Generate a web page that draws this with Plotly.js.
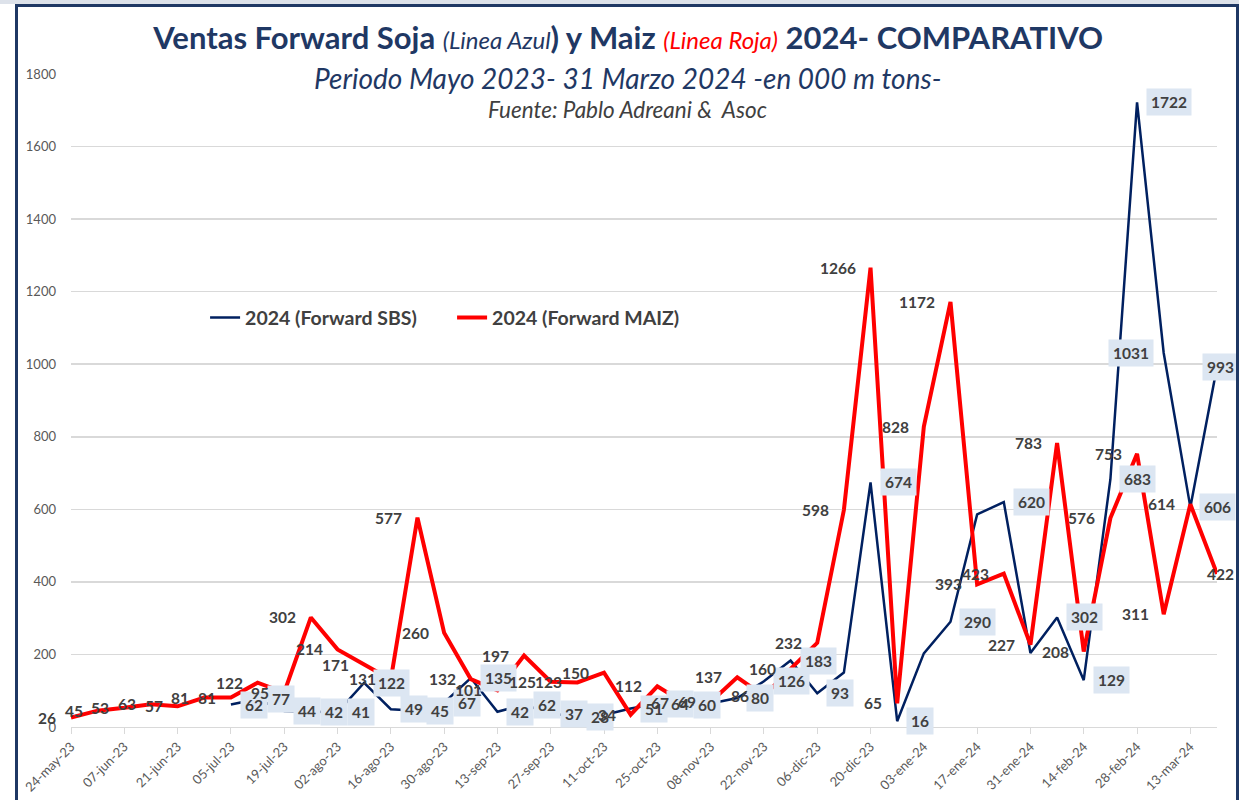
<!DOCTYPE html>
<html>
<head>
<meta charset="utf-8">
<script src="https://cdn.plot.ly/plotly-3.0.1.min.js"></script>
<style>
html,body{margin:0;padding:0;background:#ffffff;}
#chart{position:absolute;left:0;top:0;width:1239px;height:800px;}
#topstrip{position:absolute;left:0;top:0;width:1239px;height:4px;background:#dde2ea;}
#frame{position:absolute;left:15px;top:4px;width:1224px;height:820px;border:3px solid #1F3864;box-sizing:border-box;pointer-events:none;}
</style>
</head>
<body>
<div id="chart"></div>
<div id="topstrip"></div>
<div id="frame"></div>
<script>
// Weekly categories (x axis)
const weeks = [
  "24-may-23","31-may-23","07-jun-23","14-jun-23","21-jun-23","28-jun-23",
  "05-jul-23","12-jul-23","19-jul-23","26-jul-23","02-ago-23","09-ago-23",
  "16-ago-23","23-ago-23","30-ago-23","06-sep-23","13-sep-23","20-sep-23",
  "27-sep-23","04-oct-23","11-oct-23","18-oct-23","25-oct-23","01-nov-23",
  "08-nov-23","15-nov-23","22-nov-23","29-nov-23","06-dic-23","13-dic-23",
  "20-dic-23","27-dic-23","03-ene-24","10-ene-24","17-ene-24","24-ene-24",
  "31-ene-24","07-feb-24","14-feb-24","21-feb-24","28-feb-24","06-mar-24",
  "13-mar-24","20-mar-24"
];

// 2024 (Forward SBS) - soja, thousand tons
const sojaSBS = [
  null,null,null,null,null,null,
  62,77,44,42,41,122,
  49,45,67,135,42,62,
  37,28,33,51,64,60,
  65,80,126,183,93,150,
  674,16,203,290,586,620,
  204,302,129,683,1722,1031,
  606,993
];

// 2024 (Forward MAIZ) - maiz, thousand tons
const maizMAIZ = [
  26,45,53,63,57,81,
  81,122,95,302,214,171,
  131,577,260,132,101,197,
  125,123,150,34,112,67,
  69,137,86,160,232,598,
  1266,65,828,1172,393,423,
  227,783,208,576,753,311,
  614,422
];

// Data labels as they appear on the chart ('' = no label shown)
const sojaLabels = [
  "","","","","","",
  "62","77","44","42","41","122",
  "49","45","67","135","42","62",
  "37","28","","51","64","60",
  "","80","126","183","93","",
  "674","16","","290","","620",
  "","302","129","683","1722","1031",
  "606","993"
];
const maizLabels = maizMAIZ.map(v => String(v));

// label placement exceptions (index -> where the label sits relative to its point)
const sojaLabelSide = {41: "before", 43: "over"};
const maizLabelSide = {43: "over"};

const NAVY = "#1F3864";
const LINE_BLUE = "#002060";
const RED = "#FF0000";
const LABEL_COLOR = "#404040";
const BOX = "#DCE6F2";
const FONT = "Lato, 'Open Sans', sans-serif";

const traces = [
  {
    x: weeks, y: sojaSBS, type: "scatter", mode: "lines",
    name: "2024 (Forward SBS)",
    line: {color: LINE_BLUE, width: 2.5},
    connectgaps: false, hoverinfo: "skip"
  },
  {
    x: weeks, y: maizMAIZ, type: "scatter", mode: "lines",
    name: "2024 (Forward MAIZ)",
    line: {color: RED, width: 4},
    hoverinfo: "skip"
  }
];

const annotations = [];
const labelFont = {family: FONT, size: 15.5, color: LABEL_COLOR, weight: 700};

// soja labels (boxed) first, maiz labels drawn on top
sojaSBS.forEach((v, i) => {
  if (v === null || sojaLabels[i] === "") return;
  const side = sojaLabelSide[i] || "after";
  let xanchor = "left", xshift = 9;
  if (side === "over") { xanchor = "center"; xshift = 3; }
  if (side === "before") { xanchor = "right"; xshift = -10; }
  annotations.push({
    x: weeks[i], y: v, xref: "x", yref: "y",
    text: "<b>" + sojaLabels[i] + "</b>", showarrow: false,
    xanchor: xanchor, yanchor: "middle", xshift: xshift,
    font: labelFont, bgcolor: BOX, borderpad: 4
  });
});

maizMAIZ.forEach((v, i) => {
  if (v === null || maizLabels[i] === "") return;
  const side = maizLabelSide[i] || "before";
  annotations.push({
    x: weeks[i], y: v, xref: "x", yref: "y",
    text: "<b>" + maizLabels[i] + "</b>", showarrow: false,
    xanchor: side === "over" ? "center" : "right",
    yanchor: "middle",
    xshift: side === "over" ? 3 : -13,
    font: labelFont, borderpad: 1
  });
});

// subtitle and source
annotations.push({
  xref: "paper", yref: "paper", x: 0.4863, y: 0.9939,
  xanchor: "center", yanchor: "middle", showarrow: false,
  text: "<i>Periodo Mayo 2023- 31 Marzo 2024 -en 000 m tons-</i>",
  font: {family: FONT, size: 28, color: NAVY}
});
annotations.push({
  xref: "paper", yref: "paper", x: 0.4858, y: 0.9449,
  xanchor: "center", yanchor: "middle", showarrow: false,
  text: "<i>Fuente: Pablo Adreani &amp;  Asoc</i>",
  font: {family: FONT, size: 22.5, color: "#404040"}
});

const titleText =
  "<b>Ventas Forward Soja </b>" +
  "<span style='font-size:24px'><i>(Linea Azul</i></span>" +
  "<b>) y Maiz </b>" +
  "<span style='font-size:24px;color:#FF0000'><i>(Linea Roja)</i></span>" +
  "<b> 2024- COMPARATIVO</b>";

const layout = {
  width: 1239, height: 800,
  paper_bgcolor: "rgba(0,0,0,0)", plot_bgcolor: "rgba(0,0,0,0)",
  margin: {l: 71, r: 22, t: 74, b: 73, pad: 0},
  font: {family: FONT, color: "#595959"},
  title: {
    text: titleText, xref: "container", yref: "container",
    x: 0.507, xanchor: "center", y: 0.952, yanchor: "middle",
    font: {family: FONT, size: 31, color: NAVY}
  },
  showlegend: true,
  legend: {
    orientation: "h", xref: "paper", yref: "paper",
    x: 0.117, xanchor: "left", y: 0.6265, yanchor: "middle",
    bgcolor: "rgba(0,0,0,0)",
    font: {family: FONT, size: 19.5, color: LABEL_COLOR, weight: 700},
    itemwidth: 30, entrywidth: 202, entrywidthmode: "pixels"
  },
  xaxis: {
    type: "category", range: [0, weeks.length - 1], autorange: false,
    showgrid: false, zeroline: false,
    showline: true, linecolor: "#D9D9D9", linewidth: 1,
    ticks: "outside", ticklen: 6, tickcolor: "#D9D9D9", tickwidth: 1,
    tickmode: "linear", tick0: 0, dtick: 2, tickangle: -45,
    tickfont: {family: FONT, size: 13, color: "#595959"},
    fixedrange: true
  },
  yaxis: {
    range: [0, 1800], autorange: false,
    tickmode: "linear", tick0: 0, dtick: 200,
    showgrid: true, gridcolor: "#D9D9D9", gridwidth: 1.5,
    zeroline: false, showline: false, ticks: "",
    ticklabelstandoff: 14,
    tickfont: {family: FONT, size: 13, color: "#595959"},
    fixedrange: true
  },
  annotations: annotations
};

Plotly.newPlot("chart", traces, layout, {displayModeBar: false, staticPlot: true});
</script>
</body>
</html>
